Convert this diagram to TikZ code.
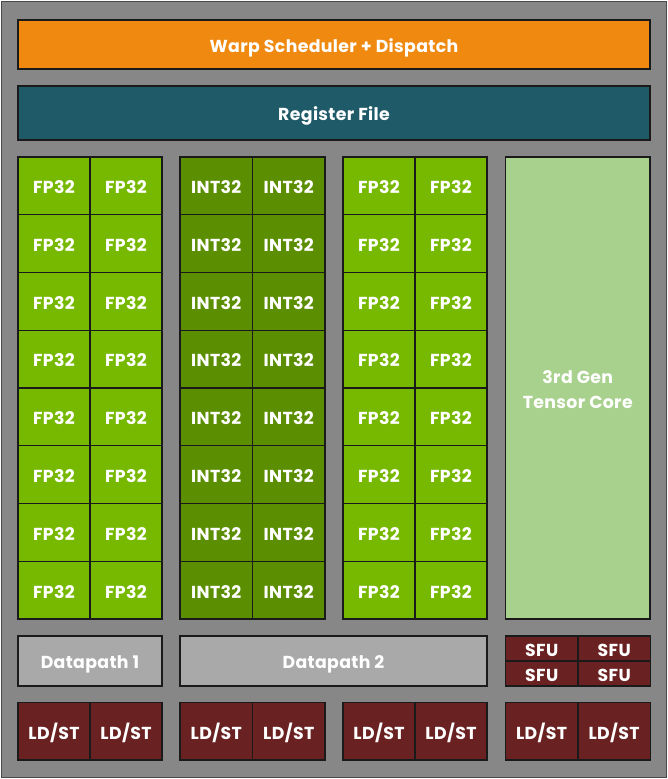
\documentclass[tikz,border=0pt]{standalone}
\usepackage{fontspec}
\setmainfont{Poppins}[LetterSpace=2]
\definecolor{bg}{HTML}{878787}
\definecolor{warp}{HTML}{F0890F}
\definecolor{reg}{HTML}{1F5A69}
\definecolor{fp}{HTML}{76B900}
\definecolor{intc}{HTML}{5B8E00}
\definecolor{tens}{HTML}{A9D18E}
\definecolor{dpath}{HTML}{A9A9A9}
\definecolor{ldst}{HTML}{6A2121}
\definecolor{edge}{HTML}{1A1A1A}
\begin{document}
\begin{tikzpicture}[x=0.75pt,y=-0.75pt,
  lbl/.style={text=white, align=center, inner sep=0pt,
    font=\bfseries\fontsize{13}{16}\selectfont},
  box/.style={lbl, draw=edge, line width=0.9pt, outer sep=0pt,
    anchor=north west, text height=11.8pt, text depth=0pt},
  unit/.style 2 args={box, minimum width=#1*0.75pt, minimum height=#2*0.75pt}]
\useasboundingbox (0,0) rectangle (668,779);
\draw[fill=bg, draw=edge!80, line width=1.2pt] (1.5,1.5) rectangle (666.5,777.5);
% top bars
\node[unit={632}{49}, fill=warp] (warp) at (18,20) {Warp Scheduler + Dispatch};
\node[unit={632}{54}, fill=reg] (regfile) at (18,86) {Register File};
% grids
\foreach \r in {0,...,7}{
  \pgfmathsetmacro{\yy}{157+57.75*\r}
  \foreach \c/\xx in {0/18,1/90}{
    \node[unit={72}{57.75}, fill=fp] (fpa-\r-\c) at (\xx,\yy) {FP32};
  }
  \foreach \c/\xx in {0/180,1/252.5}{
    \node[unit={72.5}{57.75}, fill=intc] (int-\r-\c) at (\xx,\yy) {INT32};
  }
  \foreach \c/\xx in {0/343,1/415}{
    \node[unit={72}{57.75}, fill=fp] (fpb-\r-\c) at (\xx,\yy) {FP32};
  }
}
\node[unit={144.5}{462}, fill=tens] (tensor) at (505.5,157) {};
\node[lbl] (tensorlabel) at ([yshift=-1pt]tensor.center) {3rd Gen\\[3pt]Tensor Core};
% datapaths
\node[unit={144}{50}, fill=dpath] (dp1) at (18,636) {Datapath 1};
\node[unit={307}{50}, fill=dpath] (dp2) at (180,636) {Datapath 2};
% SFU
\foreach \r/\yy in {0/636,1/661}{
  \foreach \c/\xx in {0/505.5,1/578}{
    \node[unit={72.5}{25}, fill=ldst] (sfu-\r-\c) at (\xx,\yy) {SFU};
  }
}
% LD/ST
\foreach \g/\xa/\xb/\w in {0/18/90/72,1/180/252.5/72.5,2/343/415/72,3/505.5/578/72.25}{
  \node[unit={\w}{57.5}, fill=ldst] (ld-\g-0) at (\xa,702.5) {LD/ST};
  \node[unit={\w}{57.5}, fill=ldst] (ld-\g-1) at (\xb,702.5) {LD/ST};
}
\end{tikzpicture}
\end{document}
